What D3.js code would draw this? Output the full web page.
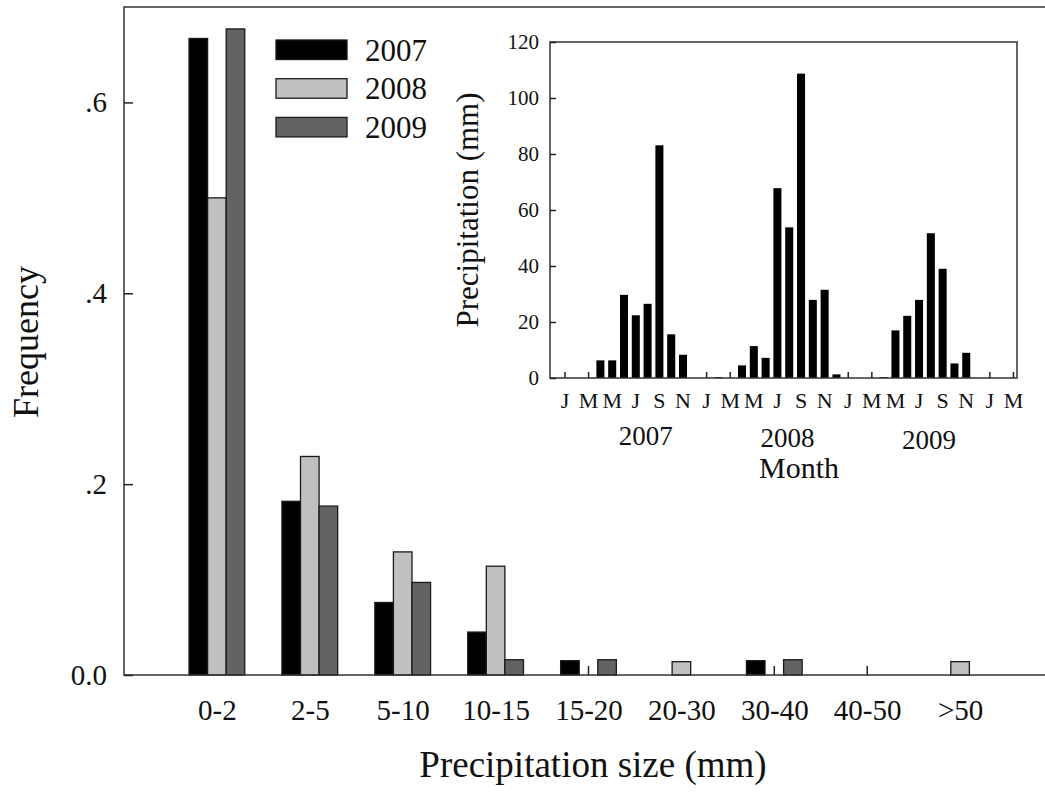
<!DOCTYPE html>
<html>
<head>
<meta charset="utf-8">
<script src="https://cdn.jsdelivr.net/npm/d3@7"></script>
<style>
  html, body { margin: 0; padding: 0; background: #fff; }
  svg { display: block; }
  text { font-family: "Liberation Serif", "Times New Roman", serif; fill: #111; }
</style>
</head>
<body>
<svg id="chart" width="1045" height="799"></svg>
<script>
// ---------- data ----------
const categories = ["0-2", "2-5", "5-10", "10-15", "15-20", "20-30", "30-40", "40-50", ">50"];
const years = ["2007", "2008", "2009"];
const freq2007 = [0.667, 0.182, 0.076, 0.045, 0.015, 0, 0.015, 0, 0];
const freq2008 = [0.500, 0.229, 0.129, 0.114, 0, 0.014, 0, 0, 0.014];
const freq2009 = [0.677, 0.177, 0.097, 0.016, 0.016, 0, 0.016, 0, 0];
const freqTicks = [0, 0.2, 0.4, 0.6];

// monthly precipitation (mm), Jan 2007 .. Mar 2010
const precip2007 = [0, 0, 0, 6.3, 6.3, 29.7, 22.4, 26.5, 83.1, 15.6, 8.3, 0];
const precip2008 = [0, 0.3, 0, 4.5, 11.4, 7.2, 67.8, 53.8, 108.7, 27.9, 31.5, 1.3];
const precip2009 = [0, 0, 0, 0.3, 17.0, 22.2, 27.9, 51.7, 39.0, 5.2, 9.0, 0];
const precip2010 = [0, 0, 0];
const monthTickLabels = ["J","M","M","J","S","N","J","M","M","J","S","N","J","M","M","J","S","N","J","M"];
const precipTicks = [0, 20, 40, 60, 80, 100, 120];
const yearLabels = ["2007", "2008", "2009"];

const colors = { "2007": "#000000", "2008": "#c0c0c0", "2009": "#636363" };
const serif = '"Liberation Serif", "Times New Roman", serif';

const svg = d3.select("#chart");

// ---------- main chart ----------
const M = { left: 124, top: 7, bottom: 675, right: 1053 };
const x = d3.scalePoint().domain(categories).range([M.left, M.right]).padding(1);
const groupW = x.step() * 0.6;
const xs = d3.scaleBand().domain(years).range([0, groupW]);
const y = d3.scaleLinear().domain([0, 0.7]).range([M.bottom, M.top]);

const series = { "2007": freq2007, "2008": freq2008, "2009": freq2009 };
const barData = [];
categories.forEach((c, i) => years.forEach(yr => barData.push({ c, yr, v: series[yr][i] })));

// inward x ticks (drawn under the bars)
svg.append("g").selectAll("line").data(categories).join("line")
  .attr("x1", d => x(d)).attr("x2", d => x(d))
  .attr("y1", M.bottom).attr("y2", M.bottom - 9)
  .attr("stroke", "#222").attr("stroke-width", 1.5);

svg.append("g").selectAll("rect").data(barData.filter(d => d.v > 0)).join("rect")
  .attr("x", d => x(d.c) - groupW / 2 + xs(d.yr))
  .attr("width", xs.bandwidth())
  .attr("y", d => y(d.v))
  .attr("height", d => y(0) - y(d.v))
  .attr("fill", d => colors[d.yr])
  .attr("stroke", "#1a1a1a").attr("stroke-width", 1.3);

// frame
svg.append("rect")
  .attr("x", M.left).attr("y", M.top)
  .attr("width", M.right - M.left).attr("height", M.bottom - M.top)
  .attr("fill", "none").attr("stroke", "#333").attr("stroke-width", 1.5);

// y axis
const yAxis = d3.axisLeft(y).tickValues(freqTicks).tickSizeInner(-9).tickSizeOuter(0).tickPadding(17)
  .tickFormat(d => d === 0 ? "0.0" : d3.format(".1f")(d).replace(/^0/, ""));
const gy = svg.append("g").attr("transform", `translate(${M.left},0)`).call(yAxis);
gy.select(".domain").remove();
gy.selectAll("line").attr("stroke", "#222").attr("stroke-width", 1.5);
gy.selectAll("text").attr("font-family", serif).attr("font-size", 29).attr("fill", "#111");

// x labels
const xAxis = d3.axisBottom(x).tickSize(0).tickPadding(24);
const gx = svg.append("g").attr("transform", `translate(0,${M.bottom})`).call(xAxis);
gx.select(".domain").remove();
gx.selectAll("text").attr("font-family", serif).attr("font-size", 29).attr("fill", "#111");

// titles
svg.append("text").attr("x", 593).attr("y", 777).attr("text-anchor", "middle")
  .attr("font-size", 37).text("Precipitation size (mm)");
svg.append("text").attr("transform", "translate(38,342) rotate(-90)").attr("text-anchor", "middle")
  .attr("font-size", 36).text("Frequency");

// legend
const legend = svg.append("g").selectAll("g").data(years).join("g")
  .attr("transform", (d, i) => `translate(276,${40 + i * 38.7})`);
legend.append("rect").attr("width", 71).attr("height", 19.5)
  .attr("fill", d => colors[d]).attr("stroke", "#1a1a1a").attr("stroke-width", 1.3);
legend.append("text").attr("x", 89).attr("y", 20.5).attr("font-size", 31).text(d => d);

// ---------- inset ----------
const I = { left: 550, top: 42, right: 1017, bottom: 378 };
const monthly = [...precip2007, ...precip2008, ...precip2009, ...precip2010];
const xi = d3.scaleLinear().domain([-1.27, 38.3]).range([I.left, I.right]);
const yi = d3.scaleLinear().domain([0, 120]).range([I.bottom, I.top]);
const barWi = (xi(1) - xi(0)) * 0.68;

const inset = svg.append("g");
inset.append("rect").attr("x", I.left).attr("y", I.top)
  .attr("width", I.right - I.left).attr("height", I.bottom - I.top).attr("fill", "#fff");

// x ticks (every other month)
const tickMonths = monthTickLabels.map((_, i) => i * 2);
inset.append("g").selectAll("line").data(tickMonths).join("line")
  .attr("x1", d => xi(d)).attr("x2", d => xi(d))
  .attr("y1", I.bottom).attr("y2", I.bottom - 6)
  .attr("stroke", "#222").attr("stroke-width", 1.5);

inset.append("g").selectAll("rect").data(monthly.map((v, m) => ({ m, v })).filter(d => d.v > 0)).join("rect")
  .attr("x", d => xi(d.m) - barWi / 2).attr("width", barWi)
  .attr("y", d => yi(d.v)).attr("height", d => yi(0) - yi(d.v))
  .attr("fill", "#000");

inset.append("rect").attr("x", I.left).attr("y", I.top)
  .attr("width", I.right - I.left).attr("height", I.bottom - I.top)
  .attr("fill", "none").attr("stroke", "#333").attr("stroke-width", 1.5);

const yiAxis = d3.axisLeft(yi).tickValues(precipTicks).tickSizeInner(-6).tickSizeOuter(0).tickPadding(11);
const giy = inset.append("g").attr("transform", `translate(${I.left},0)`).call(yiAxis);
giy.select(".domain").remove();
giy.selectAll("line").attr("stroke", "#222").attr("stroke-width", 1.5);
giy.selectAll("text").attr("font-family", serif).attr("font-size", 21).attr("fill", "#111");

// month labels
inset.append("g").selectAll("text").data(monthTickLabels).join("text")
  .attr("x", (d, i) => xi(i * 2)).attr("y", 408)
  .attr("text-anchor", "middle").attr("font-size", 22).text(d => d);

// year labels
inset.append("g").selectAll("text").data(yearLabels).join("text")
  .attr("x", (d, i) => xi(i * 12 + 6.85)).attr("y", (d, i) => 445 + i * 2)
  .attr("text-anchor", "middle").attr("font-size", 27).text(d => d);

inset.append("text").attr("x", 799).attr("y", 478).attr("text-anchor", "middle")
  .attr("font-size", 30).text("Month");

inset.append("text").attr("transform", "translate(478,210) rotate(-90)").attr("text-anchor", "middle")
  .attr("font-size", 31).text("Precipitation (mm)");
</script>
</body>
</html>
